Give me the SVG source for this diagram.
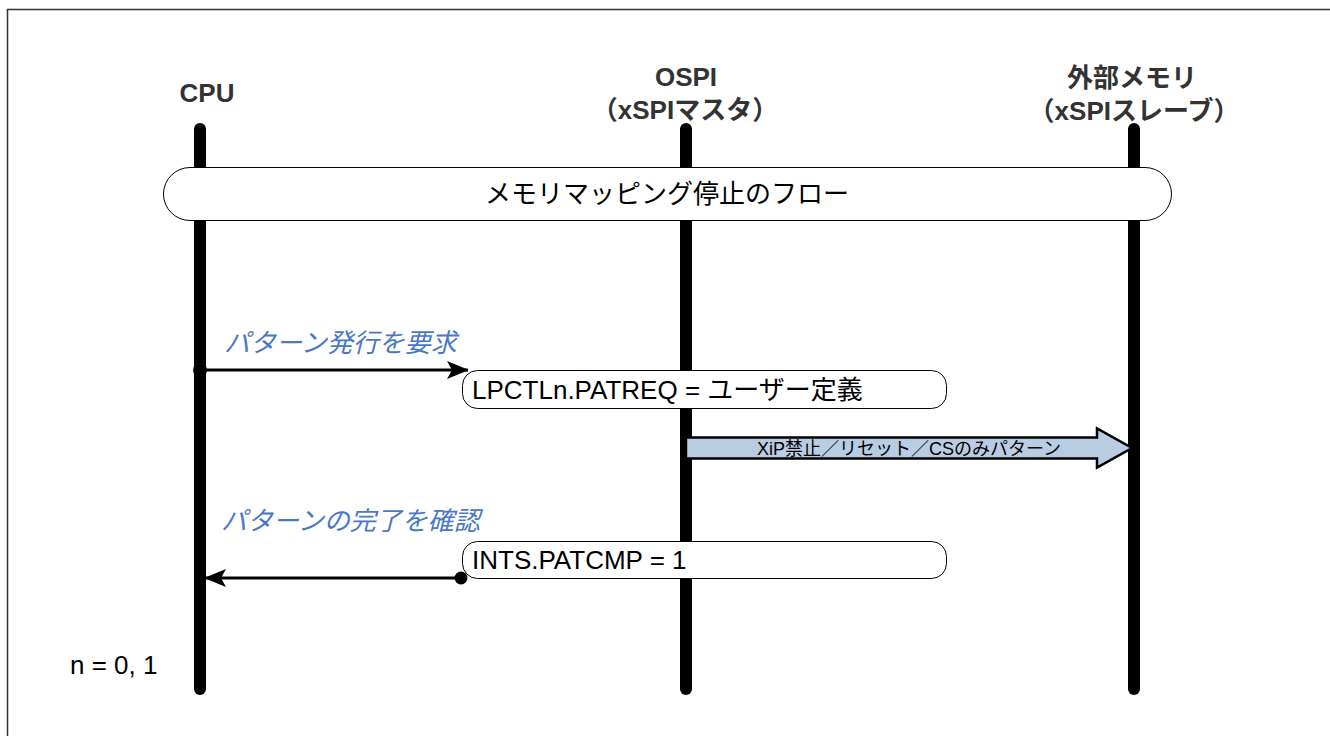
<svg xmlns="http://www.w3.org/2000/svg" width="1330" height="736" viewBox="0 0 1330 736">
<style>
text{font-family:"Liberation Sans","Noto Sans CJK JP",sans-serif;}
.hdr{font-size:26px;font-weight:bold;fill:#333333;text-anchor:middle;}
.life{stroke:#000;stroke-width:12;stroke-linecap:round;fill:none;}
.box{fill:#fff;stroke:#000;stroke-width:1;}
.lbl{font-size:26px;fill:#000;}
.note{font-size:26px;fill:#4a78c6;font-style:italic;}
.msg{stroke:#000;stroke-width:3;fill:none;}
</style>
<defs>
<marker id="arr" viewBox="0 0 22 20" refX="21" refY="10" markerWidth="22" markerHeight="20" markerUnits="userSpaceOnUse" orient="auto">
<path d="M0,1 L22,10 L0,19 L5,10 Z" fill="#000"/>
</marker>
</defs>
<rect x="7.5" y="9.5" width="1340" height="740" fill="#fff" stroke="#333" stroke-width="1.5"/>
<g id="cpu">
<text class="hdr" x="207" y="102">CPU</text>
<line class="life" x1="200" y1="129" x2="200" y2="689"/>
</g>
<g id="ospi">
<text class="hdr" x="686" y="86">OSPI</text>
<text class="hdr" x="685" y="119">（xSPIマスタ）</text>
<line class="life" x1="686" y1="129" x2="686" y2="689"/>
</g>
<g id="memory">
<text class="hdr" x="1132" y="87">外部メモリ</text>
<text class="hdr" x="1134" y="120">（xSPIスレーブ）</text>
<line class="life" x1="1134" y1="129" x2="1134" y2="689"/>
</g>
<g id="flow">
<rect class="box" x="163.5" y="167.5" width="1008" height="53" rx="26.5" ry="26.5" stroke="#333"/>
<text class="lbl" x="667" y="203" text-anchor="middle">メモリマッピング停止のフロー</text>
</g>
<g id="patreq">
<rect class="box" x="462.5" y="370.5" width="484" height="38" rx="15" ry="15"/>
<text class="lbl" x="472" y="399">LPCTLn.PATREQ = ユーザー定義</text>
</g>
<g id="patcmp">
<rect class="box" x="462.5" y="541.5" width="484" height="37" rx="15" ry="15"/>
<text class="lbl" x="472" y="569">INTS.PATCMP = 1</text>
</g>
<g id="labels">
<text class="note" x="224" y="352">パターン発行を要求</text>
<text class="note" x="221" y="530">パターンの完了を確認</text>
<text class="lbl" x="70" y="674">n = 0, 1</text>
</g>
<g id="connectors">
<circle cx="200" cy="370" r="7" fill="#000"/>
<line class="msg" x1="200" y1="370" x2="468" y2="370" marker-end="url(#arr)"/>
<circle cx="461" cy="578" r="6.5" fill="#000"/>
<line class="msg" x1="461" y1="578" x2="205" y2="578" marker-end="url(#arr)"/>
<path d="M686,437.5 L1097,437.5 L1097,428.5 L1132,448 L1097,467.5 L1097,458.5 L686,458.5 Z" fill="#b8cce4" stroke="#000" stroke-width="2.5" stroke-linejoin="miter"/>
<text x="909" y="455" font-size="18" text-anchor="middle" fill="#000">XiP禁止／リセット／CSのみパターン</text>
</g>
</svg>
